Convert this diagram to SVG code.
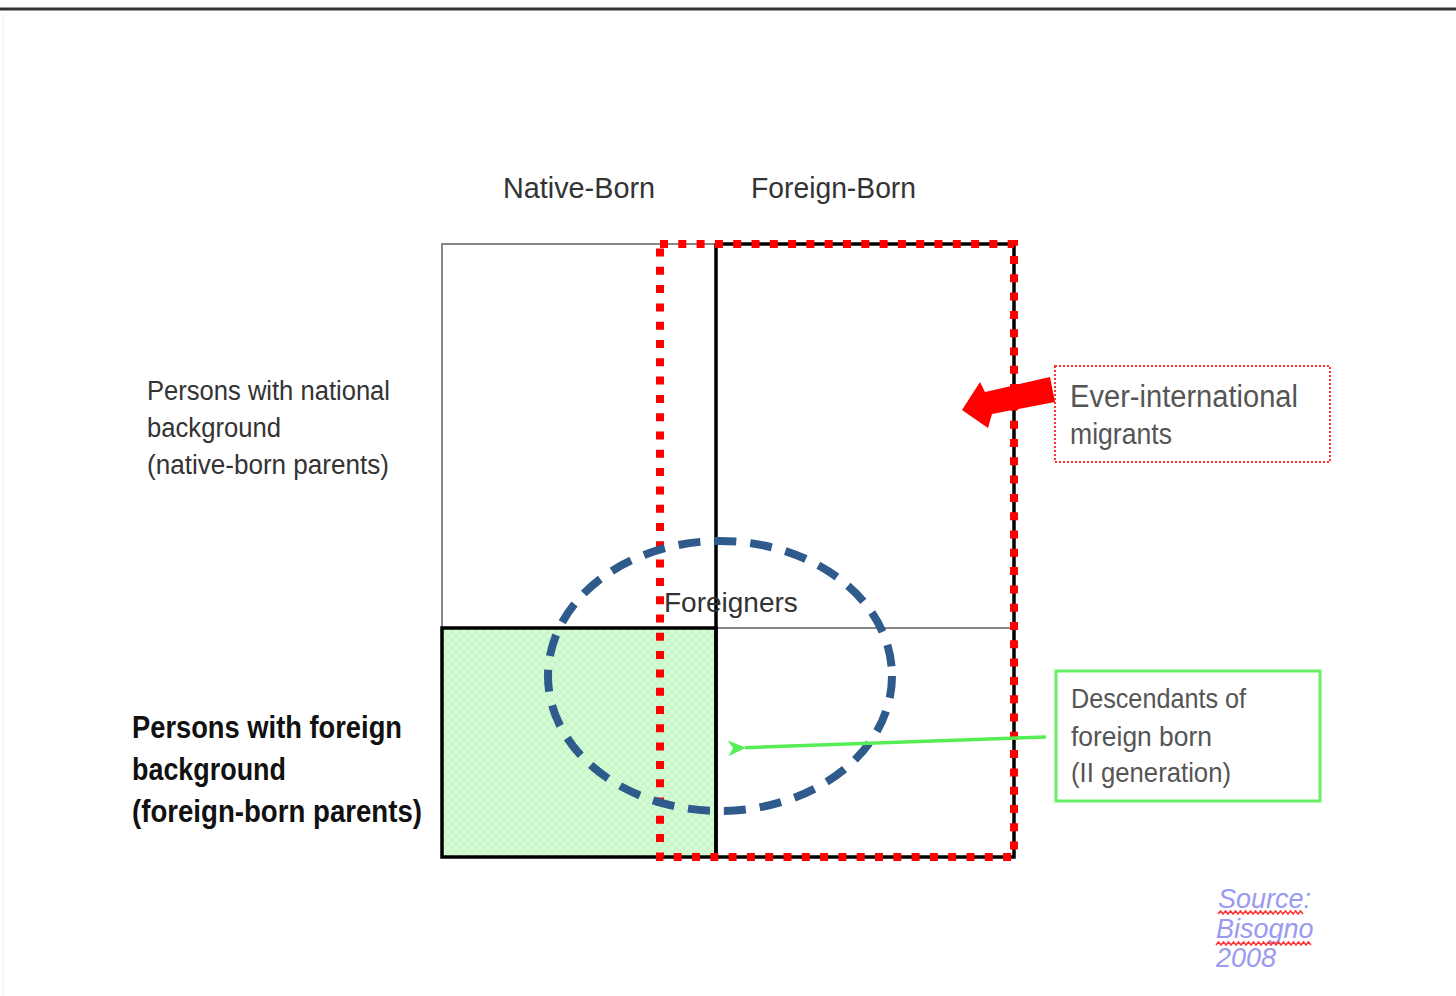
<svg xmlns="http://www.w3.org/2000/svg" width="1456" height="996" viewBox="0 0 1456 996">
<defs>
<pattern id="hatch" width="8" height="8" patternUnits="userSpaceOnUse">
<rect width="8" height="8" fill="#c8f7c8"/>
<path d="M0 0L8 8M8 0L0 8" stroke="#e6fbe6" stroke-width="1"/>
</pattern>
<marker id="gArrow" markerWidth="18" markerHeight="16" refX="1" refY="8" orient="auto" markerUnits="userSpaceOnUse" viewBox="0 0 18 16">
<path d="M18 0L0 8L18 16L13 8Z" fill="#55ee55"/>
</marker>
<style>
.t{font-family:"Liberation Sans",Arial,sans-serif;fill:#333}
.lbl{font-size:27px}
.hdr{font-size:30px}
.bold{font-size:31px;font-weight:bold;fill:#111}
.src{font-family:"Liberation Sans",Arial,sans-serif;font-style:italic;font-size:27px;fill:#9a9af0}
.thin{stroke:#888;stroke-width:2;fill:none}
.blk{stroke:#000;stroke-width:3.5;fill:none}
.reddot{stroke:#ff0000;stroke-width:8;fill:none;stroke-dasharray:8 10.3}
.wave{fill:none;stroke:#ff3333;stroke-width:1.5}
</style>
</defs>
<rect width="1456" height="996" fill="#fff"/>
<line x1="0" y1="9" x2="1456" y2="9" stroke="#333" stroke-width="3"/>
<line x1="3" y1="14" x2="3" y2="996" stroke="#eee" stroke-width="1"/>

<g id="grid">
<rect x="442" y="628" width="274" height="229" fill="url(#hatch)"/>
<path class="thin" d="M442 628V244H716"/>
<line class="thin" x1="716" y1="628" x2="1014" y2="628"/>
<rect class="blk" x="442" y="628" width="274" height="229"/>
<path class="blk" d="M716 244H1014V857H716V244"/>
</g>

<g id="ever-international-region">
<rect class="reddot" x="660" y="244" width="354" height="613"/>
</g>

<g id="foreigners">
<ellipse cx="720" cy="676" rx="172" ry="135" fill="none" stroke="#2f5a8c" stroke-width="8" stroke-dasharray="22 14"/>
<text class="t" x="664" y="612" font-size="28">Foreigners</text>
</g>

<g id="header-native">
<text class="t hdr" x="503" y="198" textLength="152" lengthAdjust="spacingAndGlyphs">Native-Born</text>
</g>
<g id="header-foreign">
<text class="t hdr" x="751" y="198" textLength="165" lengthAdjust="spacingAndGlyphs">Foreign-Born</text>
</g>

<g id="national-background">
<text class="t lbl" x="147" y="400" textLength="243" lengthAdjust="spacingAndGlyphs">Persons with national</text>
<text class="t lbl" x="147" y="437" textLength="134" lengthAdjust="spacingAndGlyphs">background</text>
<text class="t lbl" x="147" y="474" textLength="242" lengthAdjust="spacingAndGlyphs">(native-born parents)</text>
</g>

<g id="foreign-background">
<text class="t bold" x="132" y="738" textLength="270" lengthAdjust="spacingAndGlyphs">Persons with foreign</text>
<text class="t bold" x="132" y="780" textLength="154" lengthAdjust="spacingAndGlyphs">background</text>
<text class="t bold" x="132" y="822" textLength="290" lengthAdjust="spacingAndGlyphs">(foreign-born parents)</text>
</g>

<g id="ever-international-box">
<rect x="1055" y="366" width="275" height="96" fill="#fff" stroke="#ff3333" stroke-width="2" stroke-dasharray="2 2"/>
<text class="t" x="1070" y="407" font-size="31" textLength="228" lengthAdjust="spacingAndGlyphs" style="fill:#555">Ever-international</text>
<text class="t" x="1070" y="444" font-size="29" style="fill:#555" textLength="102" lengthAdjust="spacingAndGlyphs">migrants</text>
</g>

<g id="descendants-box">
<rect x="1056" y="671" width="264" height="130" fill="#fff" stroke="#66ee66" stroke-width="3"/>
<text class="t" x="1071" y="708" font-size="28" style="fill:#555" textLength="175" lengthAdjust="spacingAndGlyphs">Descendants of</text>
<text class="t" x="1071" y="746" font-size="28" style="fill:#555" textLength="141" lengthAdjust="spacingAndGlyphs">foreign born</text>
<text class="t" x="1071" y="782" font-size="28" style="fill:#555" textLength="160" lengthAdjust="spacingAndGlyphs">(II generation)</text>
</g>

<g id="connectors">
<polygon points="1050,377 1055,402 992,414 988,428 962,410 980,382 985,392" fill="#ff0000"/>
<line x1="1046" y1="737" x2="745" y2="747.7" stroke="#55ee55" stroke-width="3.5" marker-end="url(#gArrow)"/>
</g>

<g id="source">
<text class="src" x="1218" y="908">Source:</text>
<text class="src" x="1216" y="938">Bisogno</text>
<text class="src" x="1216" y="967">2008</text>
<path class="wave" d="M1218 914l2.5 -3l2.5 3l2.5 -3l2.5 3l2.5 -3l2.5 3l2.5 -3l2.5 3l2.5 -3l2.5 3l2.5 -3l2.5 3l2.5 -3l2.5 3l2.5 -3l2.5 3l2.5 -3l2.5 3l2.5 -3l2.5 3l2.5 -3l2.5 3l2.5 -3l2.5 3l2.5 -3l2.5 3l2.5 -3l2.5 3l2.5 -3l2.5 3l2.5 -3l2.5 3l2.5 -3l2.5 3"/>
<path class="wave" d="M1216 945l2.5 -3l2.5 3l2.5 -3l2.5 3l2.5 -3l2.5 3l2.5 -3l2.5 3l2.5 -3l2.5 3l2.5 -3l2.5 3l2.5 -3l2.5 3l2.5 -3l2.5 3l2.5 -3l2.5 3l2.5 -3l2.5 3l2.5 -3l2.5 3l2.5 -3l2.5 3l2.5 -3l2.5 3l2.5 -3l2.5 3l2.5 -3l2.5 3l2.5 -3l2.5 3l2.5 -3l2.5 3l2.5 -3l2.5 3l2.5 -3l2.5 3"/>
</g>
</svg>
